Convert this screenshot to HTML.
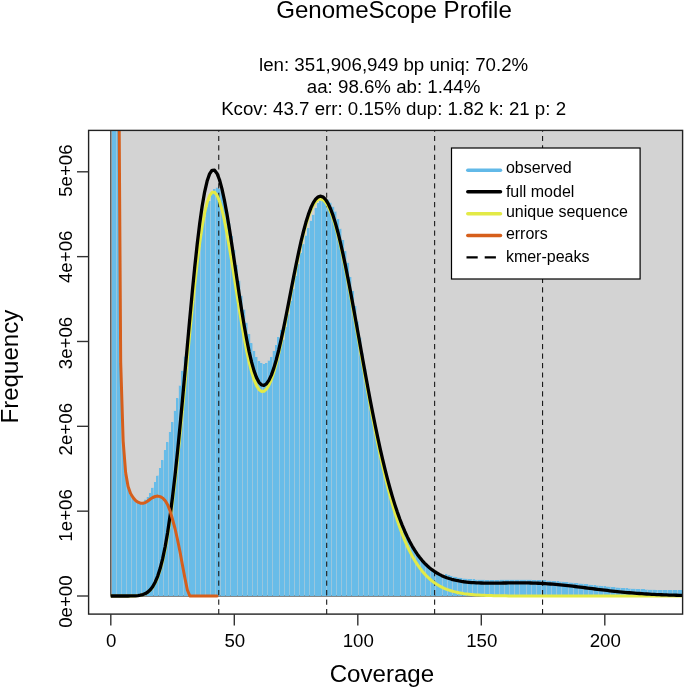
<!DOCTYPE html><html><head><meta charset="utf-8"><style>html,body{margin:0;padding:0;background:#fff;width:685px;height:689px;overflow:hidden}svg{display:block;will-change:transform}text{font-family:"Liberation Sans",sans-serif;fill:#000}</style></head><body>
<svg width="685" height="689" viewBox="0 0 685 689">
<defs><clipPath id="pc"><rect x="88.6" y="130.4" width="594" height="483.7"/></clipPath></defs>
<g clip-path="url(#pc)">
<rect x="110.80" y="0" width="700" height="596.00" fill="#d3d3d3" stroke="#3a3a3a" stroke-width="1.2"/>
<path d="M112.03 596.00V120.00h2.47V596.00zM114.50 596.00V120.00h2.47V596.00zM116.97 596.00V120.00h2.47V596.00zM119.44 596.00V363.00h2.47V596.00zM121.92 596.00V442.00h2.47V596.00zM124.39 596.00V473.50h2.47V596.00zM126.86 596.00V487.50h2.47V596.00zM129.32 596.00V494.50h2.47V596.00zM131.79 596.00V498.50h2.47V596.00zM134.26 596.00V501.50h2.47V596.00zM136.73 596.00V503.20h2.47V596.00zM139.20 596.00V504.20h2.47V596.00zM141.67 596.00V503.00h2.47V596.00zM144.14 596.00V499.50h2.47V596.00zM146.61 596.00V497.10h2.47V596.00zM149.08 596.00V493.00h2.47V596.00zM151.55 596.00V487.70h2.47V596.00zM154.02 596.00V481.90h2.47V596.00zM156.50 596.00V475.50h2.47V596.00zM158.96 596.00V467.90h2.47V596.00zM161.44 596.00V460.30h2.47V596.00zM163.90 596.00V450.40h2.47V596.00zM166.38 596.00V442.20h2.47V596.00zM168.84 596.00V432.30h2.47V596.00zM171.31 596.00V422.30h2.47V596.00zM173.78 596.00V410.70h2.47V596.00zM176.25 596.00V398.40h2.47V596.00zM178.72 596.00V385.50h2.47V596.00zM181.19 596.00V370.80h2.47V596.00zM183.66 596.00V356.50h2.47V596.00zM186.13 596.00V362.33h2.47V596.00zM188.60 596.00V336.44h2.47V596.00zM191.07 596.00V311.40h2.47V596.00zM193.54 596.00V287.77h2.47V596.00zM196.01 596.00V266.07h2.47V596.00zM198.48 596.00V246.75h2.47V596.00zM200.95 596.00V230.21h2.47V596.00zM203.43 596.00V216.74h2.47V596.00zM205.89 596.00V206.55h2.47V596.00zM208.37 596.00V201.00h2.47V596.00zM210.83 596.00V194.00h2.47V596.00zM213.31 596.00V189.00h2.47V596.00zM215.77 596.00V187.60h2.47V596.00zM218.25 596.00V189.00h2.47V596.00zM220.71 596.00V189.81h2.47V596.00zM223.19 596.00V200.23h2.47V596.00zM225.65 596.00V211.61h2.47V596.00zM228.12 596.00V223.51h2.47V596.00zM230.59 596.00V236.30h2.47V596.00zM233.06 596.00V250.30h2.47V596.00zM235.53 596.00V265.00h2.47V596.00zM238.00 596.00V280.80h2.47V596.00zM240.47 596.00V295.70h2.47V596.00zM242.94 596.00V309.60h2.47V596.00zM245.42 596.00V322.70h2.47V596.00zM247.88 596.00V333.90h2.47V596.00zM250.36 596.00V343.30h2.47V596.00zM252.82 596.00V351.10h2.47V596.00zM255.30 596.00V357.00h2.47V596.00zM257.76 596.00V361.00h2.47V596.00zM260.24 596.00V362.90h2.47V596.00zM262.70 596.00V363.90h2.47V596.00zM265.18 596.00V362.90h2.47V596.00zM267.64 596.00V360.60h2.47V596.00zM270.12 596.00V357.00h2.47V596.00zM272.58 596.00V351.10h2.47V596.00zM275.06 596.00V345.30h2.47V596.00zM277.52 596.00V337.40h2.47V596.00zM280.00 596.00V330.20h2.47V596.00zM282.46 596.00V339.58h2.47V596.00zM284.94 596.00V327.15h2.47V596.00zM287.40 596.00V314.37h2.47V596.00zM289.88 596.00V301.48h2.47V596.00zM292.34 596.00V288.70h2.47V596.00zM294.81 596.00V276.26h2.47V596.00zM297.29 596.00V264.37h2.47V596.00zM299.75 596.00V253.22h2.47V596.00zM302.23 596.00V244.30h2.47V596.00zM304.69 596.00V235.60h2.47V596.00zM307.17 596.00V228.00h2.47V596.00zM309.63 596.00V220.80h2.47V596.00zM312.11 596.00V214.70h2.47V596.00zM314.57 596.00V208.10h2.47V596.00zM317.05 596.00V203.10h2.47V596.00zM319.51 596.00V200.50h2.47V596.00zM321.99 596.00V199.00h2.47V596.00zM324.45 596.00V198.50h2.47V596.00zM326.93 596.00V199.50h2.47V596.00zM329.39 596.00V202.70h2.47V596.00zM331.87 596.00V206.70h2.47V596.00zM334.33 596.00V211.60h2.47V596.00zM336.81 596.00V219.10h2.47V596.00zM339.27 596.00V228.80h2.47V596.00zM341.75 596.00V239.90h2.47V596.00zM344.21 596.00V251.20h2.47V596.00zM346.69 596.00V262.80h2.47V596.00zM349.16 596.00V276.90h2.47V596.00zM351.62 596.00V291.10h2.47V596.00zM354.10 596.00V306.00h2.47V596.00zM356.56 596.00V321.60h2.47V596.00zM359.04 596.00V337.60h2.47V596.00zM361.50 596.00V353.46h2.47V596.00zM363.98 596.00V369.12h2.47V596.00zM366.44 596.00V384.56h2.47V596.00zM368.92 596.00V399.19h2.47V596.00zM371.38 596.00V413.26h2.47V596.00zM373.86 596.00V425.60h2.47V596.00zM376.33 596.00V437.48h2.47V596.00zM378.80 596.00V448.85h2.47V596.00zM381.27 596.00V459.69h2.47V596.00zM383.74 596.00V469.98h2.47V596.00zM386.21 596.00V479.70h2.47V596.00zM388.68 596.00V488.84h2.47V596.00zM391.15 596.00V497.42h2.47V596.00zM393.62 596.00V505.42h2.47V596.00zM396.09 596.00V512.87h2.47V596.00zM398.56 596.00V519.78h2.47V596.00zM401.03 596.00V526.16h2.47V596.00zM403.50 596.00V532.03h2.47V596.00zM405.97 596.00V537.43h2.47V596.00zM408.44 596.00V542.37h2.47V596.00zM410.91 596.00V546.87h2.47V596.00zM413.38 596.00V550.98h2.47V596.00zM415.85 596.00V554.70h2.47V596.00zM418.31 596.00V558.07h2.47V596.00zM420.79 596.00V561.11h2.47V596.00zM423.25 596.00V563.85h2.47V596.00zM425.73 596.00V566.31h2.47V596.00zM428.20 596.00V568.51h2.47V596.00zM430.67 596.00V570.48h2.47V596.00zM433.14 596.00V572.24h2.47V596.00zM435.61 596.00V573.81h2.47V596.00zM438.08 596.00V575.20h2.47V596.00zM440.55 596.00V576.44h2.47V596.00zM443.02 596.00V577.53h2.47V596.00zM445.49 596.00V574.49h2.47V596.00zM447.96 596.00V575.34h2.47V596.00zM450.43 596.00V576.08h2.47V596.00zM452.90 596.00V576.72h2.47V596.00zM455.37 596.00V577.29h2.47V596.00zM457.84 596.00V577.77h2.47V596.00zM460.31 596.00V578.19h2.47V596.00zM462.78 596.00V578.55h2.47V596.00zM465.25 596.00V578.85h2.47V596.00zM467.72 596.00V579.11h2.47V596.00zM470.19 596.00V579.32h2.47V596.00zM472.66 596.00V579.49h2.47V596.00zM475.12 596.00V579.63h2.47V596.00zM477.60 596.00V579.74h2.47V596.00zM480.07 596.00V579.82h2.47V596.00zM482.54 596.00V579.87h2.47V596.00zM485.01 596.00V579.91h2.47V596.00zM487.48 596.00V579.93h2.47V596.00zM489.95 596.00V579.93h2.47V596.00zM492.42 596.00V579.92h2.47V596.00zM494.89 596.00V579.90h2.47V596.00zM497.36 596.00V579.88h2.47V596.00zM499.83 596.00V579.85h2.47V596.00zM502.30 596.00V579.82h2.47V596.00zM504.77 596.00V579.78h2.47V596.00zM507.24 596.00V579.75h2.47V596.00zM509.71 596.00V579.72h2.47V596.00zM512.17 596.00V579.70h2.47V596.00zM514.64 596.00V579.69h2.47V596.00zM517.12 596.00V579.68h2.47V596.00zM519.59 596.00V579.68h2.47V596.00zM522.05 596.00V579.70h2.47V596.00zM524.52 596.00V579.72h2.47V596.00zM527.00 596.00V579.76h2.47V596.00zM529.47 596.00V579.82h2.47V596.00zM531.94 596.00V579.89h2.47V596.00zM534.40 596.00V579.97h2.47V596.00zM536.88 596.00V580.07h2.47V596.00zM539.35 596.00V580.19h2.47V596.00zM541.82 596.00V580.32h2.47V596.00zM544.28 596.00V580.47h2.47V596.00zM546.75 596.00V580.63h2.47V596.00zM549.23 596.00V580.81h2.47V596.00zM551.70 596.00V581.01h2.47V596.00zM554.16 596.00V581.22h2.47V596.00zM556.63 596.00V581.41h2.47V596.00zM559.11 596.00V581.61h2.47V596.00zM561.58 596.00V581.82h2.47V596.00zM564.04 596.00V582.05h2.47V596.00zM566.51 596.00V582.28h2.47V596.00zM568.99 596.00V582.52h2.47V596.00zM571.46 596.00V582.78h2.47V596.00zM573.92 596.00V583.03h2.47V596.00zM576.39 596.00V583.30h2.47V596.00zM578.87 596.00V583.57h2.47V596.00zM581.34 596.00V583.84h2.47V596.00zM583.80 596.00V584.12h2.47V596.00zM586.27 596.00V584.40h2.47V596.00zM588.75 596.00V584.67h2.47V596.00zM591.22 596.00V584.95h2.47V596.00zM593.69 596.00V585.23h2.47V596.00zM596.15 596.00V585.50h2.47V596.00zM598.62 596.00V585.77h2.47V596.00zM601.10 596.00V586.03h2.47V596.00zM603.57 596.00V586.29h2.47V596.00zM606.03 596.00V586.55h2.47V596.00zM608.50 596.00V586.80h2.47V596.00zM610.98 596.00V587.04h2.47V596.00zM613.45 596.00V587.27h2.47V596.00zM615.91 596.00V587.50h2.47V596.00zM618.38 596.00V587.71h2.47V596.00zM620.86 596.00V587.92h2.47V596.00zM623.32 596.00V588.12h2.47V596.00zM625.79 596.00V588.31h2.47V596.00zM628.26 596.00V588.50h2.47V596.00zM630.74 596.00V588.67h2.47V596.00zM633.20 596.00V588.83h2.47V596.00zM635.67 596.00V588.99h2.47V596.00zM638.14 596.00V589.13h2.47V596.00zM640.62 596.00V589.27h2.47V596.00zM643.09 596.00V589.40h2.47V596.00zM645.55 596.00V589.52h2.47V596.00zM648.02 596.00V589.63h2.47V596.00zM650.50 596.00V589.73h2.47V596.00zM652.97 596.00V589.82h2.47V596.00zM655.43 596.00V589.91h2.47V596.00zM657.90 596.00V589.99h2.47V596.00zM660.38 596.00V590.06h2.47V596.00zM662.85 596.00V590.12h2.47V596.00zM665.31 596.00V590.18h2.47V596.00zM667.78 596.00V590.23h2.47V596.00zM670.25 596.00V590.28h2.47V596.00zM672.73 596.00V590.32h2.47V596.00zM675.19 596.00V590.35h2.47V596.00zM677.66 596.00V590.38h2.47V596.00zM680.13 596.00V590.41h2.47V596.00zM682.61 596.00V590.43h2.47V596.00z" fill="#68bce8" fill-opacity="0.55"/>
<path d="M112 596.00V120.00h2V596.00zM114 596.00V120.00h2V596.00zM117 596.00V120.00h2V596.00zM119 596.00V363.00h2V596.00zM122 596.00V442.00h2V596.00zM124 596.00V473.50h2V596.00zM127 596.00V487.50h2V596.00zM129 596.00V494.50h2V596.00zM132 596.00V498.50h2V596.00zM134 596.00V501.50h2V596.00zM137 596.00V503.20h2V596.00zM139 596.00V504.20h2V596.00zM142 596.00V503.00h2V596.00zM144 596.00V499.50h2V596.00zM147 596.00V497.10h2V596.00zM149 596.00V493.00h2V596.00zM151 596.00V487.70h2V596.00zM154 596.00V481.90h2V596.00zM156 596.00V475.50h2V596.00zM159 596.00V467.90h2V596.00zM161 596.00V460.30h2V596.00zM164 596.00V450.40h2V596.00zM166 596.00V442.20h2V596.00zM169 596.00V432.30h2V596.00zM171 596.00V422.30h2V596.00zM174 596.00V410.70h2V596.00zM176 596.00V398.40h2V596.00zM179 596.00V385.50h2V596.00zM181 596.00V370.80h2V596.00zM184 596.00V356.50h2V596.00zM186 596.00V362.33h2V596.00zM189 596.00V336.44h2V596.00zM191 596.00V311.40h2V596.00zM193 596.00V287.77h2V596.00zM196 596.00V266.07h2V596.00zM198 596.00V246.75h2V596.00zM201 596.00V230.21h2V596.00zM203 596.00V216.74h2V596.00zM206 596.00V206.55h2V596.00zM208 596.00V201.00h2V596.00zM211 596.00V194.00h2V596.00zM213 596.00V189.00h2V596.00zM216 596.00V187.60h2V596.00zM218 596.00V189.00h2V596.00zM221 596.00V189.81h2V596.00zM223 596.00V200.23h2V596.00zM226 596.00V211.61h2V596.00zM228 596.00V223.51h2V596.00zM231 596.00V236.30h2V596.00zM233 596.00V250.30h2V596.00zM235 596.00V265.00h2V596.00zM238 596.00V280.80h2V596.00zM240 596.00V295.70h2V596.00zM243 596.00V309.60h2V596.00zM245 596.00V322.70h2V596.00zM248 596.00V333.90h2V596.00zM250 596.00V343.30h2V596.00zM253 596.00V351.10h2V596.00zM255 596.00V357.00h2V596.00zM258 596.00V361.00h2V596.00zM260 596.00V362.90h2V596.00zM263 596.00V363.90h2V596.00zM265 596.00V362.90h2V596.00zM268 596.00V360.60h2V596.00zM270 596.00V357.00h2V596.00zM273 596.00V351.10h2V596.00zM275 596.00V345.30h2V596.00zM277 596.00V337.40h2V596.00zM280 596.00V330.20h2V596.00zM282 596.00V339.58h2V596.00zM285 596.00V327.15h2V596.00zM287 596.00V314.37h2V596.00zM290 596.00V301.48h2V596.00zM292 596.00V288.70h2V596.00zM295 596.00V276.26h2V596.00zM297 596.00V264.37h2V596.00zM300 596.00V253.22h2V596.00zM302 596.00V244.30h2V596.00zM305 596.00V235.60h2V596.00zM307 596.00V228.00h2V596.00zM310 596.00V220.80h2V596.00zM312 596.00V214.70h2V596.00zM315 596.00V208.10h2V596.00zM317 596.00V203.10h2V596.00zM319 596.00V200.50h2V596.00zM322 596.00V199.00h2V596.00zM324 596.00V198.50h2V596.00zM327 596.00V199.50h2V596.00zM329 596.00V202.70h2V596.00zM332 596.00V206.70h2V596.00zM334 596.00V211.60h2V596.00zM337 596.00V219.10h2V596.00zM339 596.00V228.80h2V596.00zM342 596.00V239.90h2V596.00zM344 596.00V251.20h2V596.00zM347 596.00V262.80h2V596.00zM349 596.00V276.90h2V596.00zM352 596.00V291.10h2V596.00zM354 596.00V306.00h2V596.00zM356 596.00V321.60h2V596.00zM359 596.00V337.60h2V596.00zM361 596.00V353.46h2V596.00zM364 596.00V369.12h2V596.00zM366 596.00V384.56h2V596.00zM369 596.00V399.19h2V596.00zM371 596.00V413.26h2V596.00zM374 596.00V425.60h2V596.00zM376 596.00V437.48h2V596.00zM379 596.00V448.85h2V596.00zM381 596.00V459.69h2V596.00zM384 596.00V469.98h2V596.00zM386 596.00V479.70h2V596.00zM389 596.00V488.84h2V596.00zM391 596.00V497.42h2V596.00zM394 596.00V505.42h2V596.00zM396 596.00V512.87h2V596.00zM398 596.00V519.78h2V596.00zM401 596.00V526.16h2V596.00zM403 596.00V532.03h2V596.00zM406 596.00V537.43h2V596.00zM408 596.00V542.37h2V596.00zM411 596.00V546.87h2V596.00zM413 596.00V550.98h2V596.00zM416 596.00V554.70h2V596.00zM418 596.00V558.07h2V596.00zM421 596.00V561.11h2V596.00zM423 596.00V563.85h2V596.00zM426 596.00V566.31h2V596.00zM428 596.00V568.51h2V596.00zM431 596.00V570.48h2V596.00zM433 596.00V572.24h2V596.00zM436 596.00V573.81h2V596.00zM438 596.00V575.20h2V596.00zM440 596.00V576.44h2V596.00zM443 596.00V577.53h2V596.00zM445 596.00V574.49h2V596.00zM448 596.00V575.34h2V596.00zM450 596.00V576.08h2V596.00zM453 596.00V576.72h2V596.00zM455 596.00V577.29h2V596.00zM458 596.00V577.77h2V596.00zM460 596.00V578.19h2V596.00zM463 596.00V578.55h2V596.00zM465 596.00V578.85h2V596.00zM468 596.00V579.11h2V596.00zM470 596.00V579.32h2V596.00zM473 596.00V579.49h2V596.00zM475 596.00V579.63h2V596.00zM478 596.00V579.74h2V596.00zM480 596.00V579.82h2V596.00zM482 596.00V579.87h2V596.00zM485 596.00V579.91h2V596.00zM487 596.00V579.93h2V596.00zM490 596.00V579.93h2V596.00zM492 596.00V579.92h2V596.00zM495 596.00V579.90h2V596.00zM497 596.00V579.88h2V596.00zM500 596.00V579.85h2V596.00zM502 596.00V579.82h2V596.00zM505 596.00V579.78h2V596.00zM507 596.00V579.75h2V596.00zM510 596.00V579.72h2V596.00zM512 596.00V579.70h2V596.00zM515 596.00V579.69h2V596.00zM517 596.00V579.68h2V596.00zM520 596.00V579.68h2V596.00zM522 596.00V579.70h2V596.00zM524 596.00V579.72h2V596.00zM527 596.00V579.76h2V596.00zM529 596.00V579.82h2V596.00zM532 596.00V579.89h2V596.00zM534 596.00V579.97h2V596.00zM537 596.00V580.07h2V596.00zM539 596.00V580.19h2V596.00zM542 596.00V580.32h2V596.00zM544 596.00V580.47h2V596.00zM547 596.00V580.63h2V596.00zM549 596.00V580.81h2V596.00zM552 596.00V581.01h2V596.00zM554 596.00V581.22h2V596.00zM557 596.00V581.41h2V596.00zM559 596.00V581.61h2V596.00zM562 596.00V581.82h2V596.00zM564 596.00V582.05h2V596.00zM566 596.00V582.28h2V596.00zM569 596.00V582.52h2V596.00zM571 596.00V582.78h2V596.00zM574 596.00V583.03h2V596.00zM576 596.00V583.30h2V596.00zM579 596.00V583.57h2V596.00zM581 596.00V583.84h2V596.00zM584 596.00V584.12h2V596.00zM586 596.00V584.40h2V596.00zM589 596.00V584.67h2V596.00zM591 596.00V584.95h2V596.00zM594 596.00V585.23h2V596.00zM596 596.00V585.50h2V596.00zM599 596.00V585.77h2V596.00zM601 596.00V586.03h2V596.00zM604 596.00V586.29h2V596.00zM606 596.00V586.55h2V596.00zM608 596.00V586.80h2V596.00zM611 596.00V587.04h2V596.00zM613 596.00V587.27h2V596.00zM616 596.00V587.50h2V596.00zM618 596.00V587.71h2V596.00zM621 596.00V587.92h2V596.00zM623 596.00V588.12h2V596.00zM626 596.00V588.31h2V596.00zM628 596.00V588.50h2V596.00zM631 596.00V588.67h2V596.00zM633 596.00V588.83h2V596.00zM636 596.00V588.99h2V596.00zM638 596.00V589.13h2V596.00zM641 596.00V589.27h2V596.00zM643 596.00V589.40h2V596.00zM645 596.00V589.52h2V596.00zM648 596.00V589.63h2V596.00zM650 596.00V589.73h2V596.00zM653 596.00V589.82h2V596.00zM655 596.00V589.91h2V596.00zM658 596.00V589.99h2V596.00zM660 596.00V590.06h2V596.00zM663 596.00V590.12h2V596.00zM665 596.00V590.18h2V596.00zM668 596.00V590.23h2V596.00zM670 596.00V590.28h2V596.00zM673 596.00V590.32h2V596.00zM675 596.00V590.35h2V596.00zM678 596.00V590.38h2V596.00zM680 596.00V590.41h2V596.00zM683 596.00V590.43h2V596.00z" fill="#68bce8" shape-rendering="crispEdges"/>
<line x1="218.74" y1="614.1" x2="218.74" y2="130.4" stroke="#1a1a1a" stroke-width="1.1" stroke-dasharray="5.2 4.26" stroke-dashoffset="0"/>
<line x1="326.68" y1="614.1" x2="326.68" y2="130.4" stroke="#1a1a1a" stroke-width="1.1" stroke-dasharray="5.2 4.26" stroke-dashoffset="0"/>
<line x1="434.62" y1="614.1" x2="434.62" y2="130.4" stroke="#1a1a1a" stroke-width="1.1" stroke-dasharray="5.2 4.26" stroke-dashoffset="0"/>
<line x1="542.56" y1="614.1" x2="542.56" y2="130.4" stroke="#1a1a1a" stroke-width="1.1" stroke-dasharray="5.2 4.26" stroke-dashoffset="0"/>
<polyline points="110.80,596.00 113.27,596.00 115.74,596.00 118.21,596.00 120.68,596.00 123.15,596.00 125.62,595.99 128.09,595.98 130.56,595.96 133.03,595.90 135.50,595.79 137.97,595.59 140.44,595.23 142.91,594.63 145.38,593.67 147.85,592.20 150.32,590.03 152.79,586.95 155.26,582.72 157.73,577.08 160.20,569.79 162.67,560.60 165.14,549.32 167.61,535.81 170.08,520.01 172.55,501.92 175.02,481.66 177.49,459.44 179.96,435.57 182.43,410.44 184.90,384.52 187.37,358.33 189.84,332.44 192.31,307.40 194.78,283.77 197.25,262.07 199.72,242.75 202.19,226.21 204.66,212.74 207.13,202.55 209.60,195.74 212.07,192.33 214.54,192.24 217.01,195.28 219.48,201.23 221.95,209.76 224.42,220.53 226.89,233.14 229.36,247.17 231.83,262.20 234.30,277.80 236.77,293.56 239.24,309.09 241.71,324.02 244.18,338.03 246.65,350.82 249.12,362.16 251.59,371.83 254.06,379.69 256.53,385.61 259.00,389.53 261.47,391.42 263.94,391.29 266.41,389.21 268.88,385.25 271.35,379.54 273.82,372.22 276.29,363.46 278.76,353.46 281.23,342.42 283.70,330.58 286.17,318.15 288.64,305.37 291.11,292.48 293.58,279.70 296.05,267.26 298.52,255.37 300.99,244.22 303.46,233.99 305.93,224.85 308.40,216.93 310.87,210.35 313.34,205.20 315.81,201.54 318.28,199.42 320.75,198.86 323.22,199.85 325.69,202.37 328.16,206.38 330.63,211.81 333.10,218.58 335.57,226.60 338.04,235.76 340.51,245.96 342.98,257.07 345.45,268.96 347.92,281.52 350.39,294.61 352.86,308.12 355.33,321.91 357.80,335.88 360.27,349.92 362.74,363.93 365.21,377.80 367.68,391.46 370.15,404.84 372.62,417.86 375.09,430.47 377.56,442.62 380.03,454.28 382.50,465.41 384.97,475.98 387.44,486.00 389.91,495.44 392.38,504.31 394.85,512.61 397.32,520.35 399.79,527.54 402.26,534.19 404.73,540.34 407.20,545.99 409.67,551.17 412.14,555.90 414.61,560.22 417.08,564.15 419.55,567.70 422.02,570.91 424.49,573.81 426.96,576.41 429.43,578.75 431.90,580.83 434.37,582.70 436.84,584.35 439.31,585.82 441.78,587.12 444.25,588.28 446.72,589.29 449.19,590.18 451.66,590.96 454.13,591.65 456.60,592.25 459.07,592.77 461.54,593.22 464.01,593.62 466.48,593.96 468.95,594.26 471.42,594.51 473.89,594.73 476.36,594.92 478.83,595.08 481.30,595.22 483.77,595.34 486.24,595.44 488.71,595.53 491.18,595.61 493.65,595.67 496.12,595.72 498.59,595.77 501.06,595.80 503.53,595.84 506.00,595.86 508.47,595.89 510.94,595.90 513.41,595.92 515.88,595.93 518.35,595.95 520.82,595.95 523.29,595.96 525.76,595.97 528.23,595.97 530.70,595.98 533.17,595.98 535.64,595.99 538.11,595.99 540.58,595.99 543.05,595.99 545.52,595.99 547.99,595.99 550.46,596.00 552.93,596.00 555.40,596.00 557.87,596.00 560.34,596.00 562.81,596.00 565.28,596.00 567.75,596.00 570.22,596.00 572.69,596.00 575.16,596.00 577.63,596.00 580.10,596.00 582.57,596.00 585.04,596.00 587.51,596.00 589.98,596.00 592.45,596.00 594.92,596.00 597.39,596.00 599.86,596.00 602.33,596.00 604.80,596.00 607.27,596.00 609.74,596.00 612.21,596.00 614.68,596.00 617.15,596.00 619.62,596.00 622.09,596.00 624.56,596.00 627.03,596.00 629.50,596.00 631.97,596.00 634.44,596.00 636.91,596.00 639.38,596.00 641.85,596.00 644.32,596.00 646.79,596.00 649.26,596.00 651.73,596.00 654.20,596.00 656.67,596.00 659.14,596.00 661.61,596.00 664.08,596.00 666.55,596.00 669.02,596.00 671.49,596.00 673.96,596.00 676.43,596.00 678.90,596.00 681.37,596.00 683.84,596.00" fill="none" stroke="#e3ea46" stroke-width="3" stroke-linejoin="round"/>
<polyline points="110.80,596.00 113.27,596.00 115.74,596.00 118.21,596.00 120.68,596.00 123.15,596.00 125.62,595.99 128.09,595.98 130.56,595.96 133.03,595.90 135.50,595.78 137.97,595.57 140.44,595.19 142.91,594.56 145.38,593.54 147.85,591.99 150.32,589.70 152.79,586.46 155.26,581.99 157.73,576.05 160.20,568.35 162.67,558.66 165.14,546.77 167.61,532.52 170.08,515.85 172.55,496.76 175.02,475.39 177.49,451.96 179.96,426.78 182.43,400.27 184.90,372.93 187.37,345.31 189.84,318.00 192.31,291.59 194.78,266.67 197.25,243.79 199.72,223.42 202.19,205.97 204.66,191.77 207.13,181.03 209.60,173.87 212.07,170.29 214.54,170.21 217.01,173.45 219.48,179.76 221.95,188.81 224.42,200.23 226.89,213.61 229.36,228.51 231.83,244.47 234.30,261.07 236.77,277.86 239.24,294.43 241.71,310.41 244.18,325.45 246.65,339.26 249.12,351.56 251.59,362.16 254.06,370.88 256.53,377.61 259.00,382.28 261.47,384.86 263.94,385.35 266.41,383.83 268.88,380.36 271.35,375.08 273.82,368.14 276.29,359.71 278.76,349.99 281.23,339.19 283.70,327.53 286.17,315.26 288.64,302.61 291.11,289.81 293.58,277.10 296.05,264.71 298.52,252.85 300.99,241.72 303.46,231.50 305.93,222.36 308.40,214.42 310.87,207.82 313.34,202.64 315.81,198.95 318.28,196.80 320.75,196.20 323.22,197.16 325.69,199.63 328.16,203.59 330.63,208.96 333.10,215.67 335.57,223.62 338.04,232.71 340.51,242.82 342.98,253.83 345.45,265.62 347.92,278.06 350.39,291.02 352.86,304.38 355.33,318.01 357.80,331.81 360.27,345.66 362.74,359.46 365.21,373.12 367.68,386.56 370.15,399.69 372.62,412.46 375.09,424.80 377.56,436.68 380.03,448.05 382.50,458.89 384.97,469.18 387.44,478.90 389.91,488.04 392.38,496.62 394.85,504.62 397.32,512.07 399.79,518.98 402.26,525.36 404.73,531.23 407.20,536.63 409.67,541.57 412.14,546.07 414.61,550.18 417.08,553.90 419.55,557.27 422.02,560.31 424.49,563.05 426.96,565.51 429.43,567.71 431.90,569.68 434.37,571.44 436.84,573.01 439.31,574.40 441.78,575.64 444.25,576.73 446.72,577.69 449.19,578.54 451.66,579.28 454.13,579.92 456.60,580.49 459.07,580.97 461.54,581.39 464.01,581.75 466.48,582.05 468.95,582.31 471.42,582.52 473.89,582.69 476.36,582.83 478.83,582.94 481.30,583.02 483.77,583.07 486.24,583.11 488.71,583.13 491.18,583.13 493.65,583.12 496.12,583.10 498.59,583.08 501.06,583.05 503.53,583.02 506.00,582.98 508.47,582.95 510.94,582.92 513.41,582.90 515.88,582.89 518.35,582.88 520.82,582.88 523.29,582.90 525.76,582.92 528.23,582.96 530.70,583.02 533.17,583.09 535.64,583.17 538.11,583.27 540.58,583.39 543.05,583.52 545.52,583.67 547.99,583.83 550.46,584.01 552.93,584.21 555.40,584.42 557.87,584.64 560.34,584.88 562.81,585.13 565.28,585.39 567.75,585.65 570.22,585.93 572.69,586.22 575.16,586.51 577.63,586.81 580.10,587.12 582.57,587.43 585.04,587.74 587.51,588.05 589.98,588.36 592.45,588.68 594.92,588.99 597.39,589.29 599.86,589.60 602.33,589.90 604.80,590.19 607.27,590.48 609.74,590.77 612.21,591.04 614.68,591.31 617.15,591.57 619.62,591.82 622.09,592.07 624.56,592.30 627.03,592.53 629.50,592.75 631.97,592.95 634.44,593.15 636.91,593.34 639.38,593.52 641.85,593.69 644.32,593.86 646.79,594.01 649.26,594.16 651.73,594.29 654.20,594.42 656.67,594.54 659.14,594.66 661.61,594.76 664.08,594.86 666.55,594.96 669.02,595.04 671.49,595.12 673.96,595.20 676.43,595.27 678.90,595.33 681.37,595.39 683.84,595.45" fill="none" stroke="#000" stroke-width="3.3" stroke-linejoin="round"/>
<polyline points="118.21,-25.00 120.68,362.00 123.15,441.00 125.62,472.50 128.09,486.50 130.56,493.50 133.03,497.50 135.50,500.50 137.97,502.20 140.44,503.20 142.91,503.30 145.38,502.60 147.85,501.00 150.32,499.00 152.79,497.50 155.26,496.50 157.73,496.10 160.20,496.60 162.67,498.00 165.14,500.60 167.61,504.80 170.08,511.00 172.55,519.50 175.02,528.50 177.49,539.50 179.96,551.50 182.43,565.00 184.90,578.00 187.37,590.00 189.84,596.00 192.31,596.00 194.78,596.00 197.25,596.00 199.72,596.00 202.19,596.00 204.66,596.00 207.13,596.00 209.60,596.00 212.07,596.00 214.54,596.00 217.01,596.00" fill="none" stroke="#d65f1c" stroke-width="3" stroke-linejoin="round" stroke-linecap="round"/>
</g>
<rect x="451.5" y="148" width="188.6" height="131" fill="#fff" stroke="#000" stroke-width="1.2"/>
<line x1="467.8" y1="170.20" x2="500.5" y2="170.20" stroke="#62b9e8" stroke-width="3.5" stroke-linecap="round"/>
<text x="505.9" y="172.80" font-size="16">observed</text>
<line x1="467.8" y1="191.75" x2="500.5" y2="191.75" stroke="#000" stroke-width="3.5" stroke-linecap="round"/>
<text x="505.9" y="196.80" font-size="16">full model</text>
<line x1="467.8" y1="213.70" x2="500.5" y2="213.70" stroke="#e3ea46" stroke-width="3.5" stroke-linecap="round"/>
<text x="505.9" y="217.10" font-size="16">unique sequence</text>
<line x1="467.8" y1="235.60" x2="500.5" y2="235.60" stroke="#d65f1c" stroke-width="3.5" stroke-linecap="round"/>
<text x="505.9" y="239.20" font-size="16">errors</text>
<line x1="466.5" y1="257.40" x2="497" y2="257.40" stroke="#000" stroke-width="2.2" stroke-dasharray="11.2 7"/>
<text x="505.9" y="261.50" font-size="16">kmer-peaks</text>
<rect x="88.6" y="130.4" width="594" height="483.7" fill="none" stroke="#222" stroke-width="1.4"/>
<line x1="110.80" y1="614.1" x2="110.80" y2="625.5" stroke="#333" stroke-width="1.4"/>
<text x="111.30" y="647" font-size="18.7" text-anchor="middle">0</text>
<line x1="234.30" y1="614.1" x2="234.30" y2="625.5" stroke="#333" stroke-width="1.4"/>
<text x="234.80" y="647" font-size="18.7" text-anchor="middle">50</text>
<line x1="357.80" y1="614.1" x2="357.80" y2="625.5" stroke="#333" stroke-width="1.4"/>
<text x="358.30" y="647" font-size="18.7" text-anchor="middle">100</text>
<line x1="481.30" y1="614.1" x2="481.30" y2="625.5" stroke="#333" stroke-width="1.4"/>
<text x="481.80" y="647" font-size="18.7" text-anchor="middle">150</text>
<line x1="604.80" y1="614.1" x2="604.80" y2="625.5" stroke="#333" stroke-width="1.4"/>
<text x="605.30" y="647" font-size="18.7" text-anchor="middle">200</text>
<line x1="77" y1="596.00" x2="88.6" y2="596.00" stroke="#333" stroke-width="1.4"/>
<text transform="translate(72.1 601.60) rotate(-90)" font-size="18.7" text-anchor="middle">0e+00</text>
<line x1="77" y1="511.16" x2="88.6" y2="511.16" stroke="#333" stroke-width="1.4"/>
<text transform="translate(72.1 515.40) rotate(-90)" font-size="18.7" text-anchor="middle">1e+06</text>
<line x1="77" y1="426.32" x2="88.6" y2="426.32" stroke="#333" stroke-width="1.4"/>
<text transform="translate(72.1 429.20) rotate(-90)" font-size="18.7" text-anchor="middle">2e+06</text>
<line x1="77" y1="341.48" x2="88.6" y2="341.48" stroke="#333" stroke-width="1.4"/>
<text transform="translate(72.1 343.00) rotate(-90)" font-size="18.7" text-anchor="middle">3e+06</text>
<line x1="77" y1="256.64" x2="88.6" y2="256.64" stroke="#333" stroke-width="1.4"/>
<text transform="translate(72.1 256.80) rotate(-90)" font-size="18.7" text-anchor="middle">4e+06</text>
<line x1="77" y1="171.80" x2="88.6" y2="171.80" stroke="#333" stroke-width="1.4"/>
<text transform="translate(72.1 170.60) rotate(-90)" font-size="18.7" text-anchor="middle">5e+06</text>
<text x="394" y="18.1" font-size="24.1" text-anchor="middle">GenomeScope Profile</text>
<text x="393.6" y="70.9" font-size="18.7" text-anchor="middle">len: 351,906,949 bp uniq: 70.2%</text>
<text x="393.6" y="93.1" font-size="18.7" text-anchor="middle">aa: 98.6% ab: 1.44%</text>
<text x="393.6" y="115.3" font-size="18.7" text-anchor="middle">Kcov: 43.7 err: 0.15% dup: 1.82 k: 21 p: 2</text>
<text x="381.9" y="682.4" font-size="24.1" text-anchor="middle">Coverage</text>
<text transform="translate(17.8 366.6) rotate(-90)" font-size="24.1" text-anchor="middle">Frequency</text>
</svg></body></html>
